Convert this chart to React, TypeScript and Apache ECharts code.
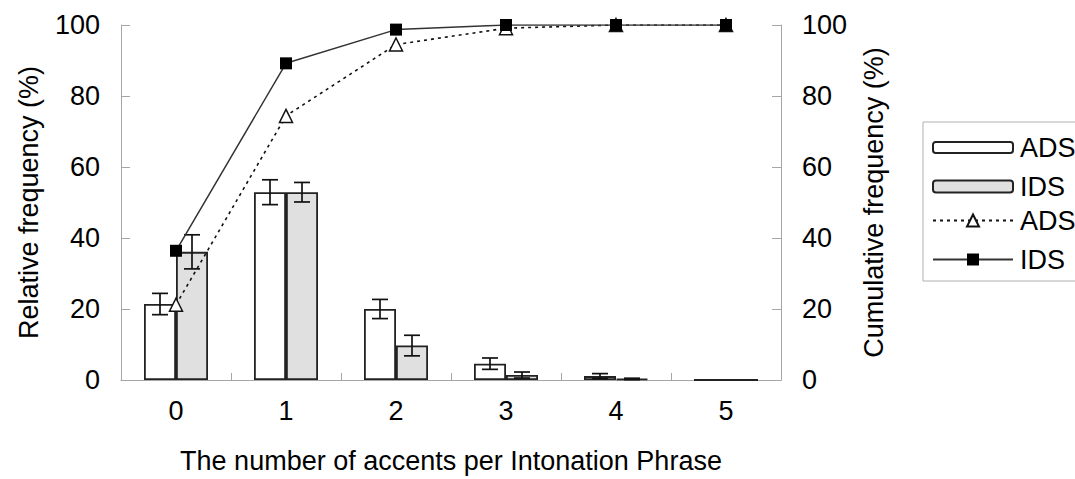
import React, { useEffect, useRef } from 'react';
import * as echarts from 'echarts';

const categories = ['0', '1', '2', '3', '4', '5'];
const adsRelative = [21.4, 52.9, 20.0, 4.6, 1.1, 0];
const adsError = [3.0, 3.5, 2.7, 1.6, 0.7, 0];
const idsRelative = [36.1, 52.9, 9.7, 1.4, 0.3, 0];
const idsError = [4.8, 2.75, 2.9, 0.85, 0.2, 0];
const adsCumulative = [21.2, 74.4, 94.5, 99.1, 100, 100];
const idsCumulative = [36.4, 89.2, 98.7, 100, 100, 100];

const FONT = '"Liberation Sans", Arial, sans-serif';
const FS = 27;
const AXIS_GRAY = '#a6a6a6';

function errorRenderer(side: number) {
  return (params: any, api: any) => {
    const i = api.value(0);
    const v = api.value(1);
    const e = api.value(2);
    if (!e) return null;
    const top = api.coord([i, v + e]);
    const bot = api.coord([i, v - e]);
    const x = top[0] + side * 16;
    const half = 8;
    const style = { stroke: '#111', lineWidth: 1.7 };
    return {
      type: 'group',
      children: [
        { type: 'line', shape: { x1: x, y1: top[1], x2: x, y2: bot[1] }, style },
        { type: 'line', shape: { x1: x - half, y1: top[1], x2: x + half, y2: top[1] }, style },
        { type: 'line', shape: { x1: x - half, y1: bot[1], x2: x + half, y2: bot[1] }, style },
      ],
    };
  };
}

export default function App() {
  const ref = useRef<HTMLDivElement>(null);
  useEffect(() => {
    document.body.style.margin = '0';
    document.body.style.overflow = 'hidden';
    const chart = echarts.init(ref.current!, null, { renderer: 'svg' });
    const legendCommon = (name: string, top: number, itemHeight: number) => ({
      orient: 'vertical',
      left: 932,
      top,
      padding: 0,
      itemWidth: 80,
      itemHeight,
      selectedMode: false,
      data: [name],
      formatter: (n: string) => (n.startsWith('ADS') ? 'ADS' : 'IDS'),
      textStyle: { fontSize: FS, color: '#000', fontFamily: FONT, padding: [0, 0, 0, 2] },
    });
    const yAxisCommon = {
      type: 'value',
      min: 0,
      max: 100,
      interval: 20,
      splitLine: { show: false },
      axisLine: { show: true, lineStyle: { color: AXIS_GRAY, width: 1 } },
      axisTick: { show: true, inside: true, length: 9, lineStyle: { color: AXIS_GRAY } },
      axisLabel: { fontSize: FS, color: '#000', fontFamily: FONT, margin: 21 },
      nameLocation: 'middle',
      nameGap: 79,
      nameTextStyle: { fontSize: FS, color: '#000', fontFamily: FONT },
    };
    chart.setOption({
      animation: false,
      backgroundColor: '#fff',
      textStyle: { fontFamily: FONT },
      grid: { left: 121, right: 294, top: 25, bottom: 95 },
      graphic: [
        {
          type: 'rect',
          shape: { x: 923, y: 122, width: 220, height: 159 },
          style: { fill: 'none', stroke: '#b0b0b0', lineWidth: 1 },
          silent: true,
        },
      ],
      legend: [
        legendCommon('ADS', 134, 11),
        legendCommon('IDS', 173, 12),
        legendCommon('ADS cumulative', 207, 15),
        legendCommon('IDS cumulative', 246, 15),
      ],
      xAxis: {
        type: 'category',
        data: categories,
        boundaryGap: true,
        axisLine: { show: true, lineStyle: { color: AXIS_GRAY, width: 1 } },
        axisTick: { show: true, inside: true, length: 7, lineStyle: { color: AXIS_GRAY } },
        axisLabel: { fontSize: FS, color: '#000', fontFamily: FONT, margin: 17 },
        name: 'The number of accents per Intonation Phrase',
        nameLocation: 'middle',
        nameGap: 67,
        nameTextStyle: { fontSize: FS, color: '#000', fontFamily: FONT },
      },
      yAxis: [
        { ...yAxisCommon, position: 'left', name: 'Relative frequency (%)' },
        { ...yAxisCommon, position: 'right', name: 'Cumulative frequency (%)' },
      ],
      series: [
        {
          name: 'ADS',
          type: 'bar',
          data: adsRelative,
          barWidth: 32,
          barGap: '0%',
          itemStyle: { color: '#ffffff', borderColor: '#222', borderWidth: 1.8 },
          z: 2,
        },
        {
          name: 'IDS',
          type: 'bar',
          data: idsRelative,
          barWidth: 32,
          barGap: '0%',
          itemStyle: { color: '#e0e0e0', borderColor: '#222', borderWidth: 1.8 },
          z: 2,
        },
        {
          name: 'ADS error',
          type: 'custom',
          data: adsRelative.map((v, i) => [i, v, adsError[i]]),
          encode: { x: 0, y: 1 },
          renderItem: errorRenderer(-1),
          z: 3,
          silent: true,
        },
        {
          name: 'IDS error',
          type: 'custom',
          data: idsRelative.map((v, i) => [i, v, idsError[i]]),
          encode: { x: 0, y: 1 },
          renderItem: errorRenderer(1),
          z: 3,
          silent: true,
        },
        {
          name: 'ADS cumulative',
          type: 'line',
          yAxisIndex: 1,
          data: adsCumulative,
          symbol: 'triangle',
          symbolSize: 13,
          lineStyle: { color: '#111', width: 1.6, type: [3, 4] },
          itemStyle: { color: '#ffffff', borderColor: '#111', borderWidth: 1.5 },
          z: 4,
        },
        {
          name: 'IDS cumulative',
          type: 'line',
          yAxisIndex: 1,
          data: idsCumulative,
          symbol: 'rect',
          symbolSize: 12,
          lineStyle: { color: '#333', width: 1.5 },
          itemStyle: { color: '#000', borderColor: '#000', borderWidth: 0 },
          z: 5,
        },
      ],
    });
    return () => chart.dispose();
  }, []);
  return <div ref={ref} style={{ width: 1075, height: 479 }} />;
}
